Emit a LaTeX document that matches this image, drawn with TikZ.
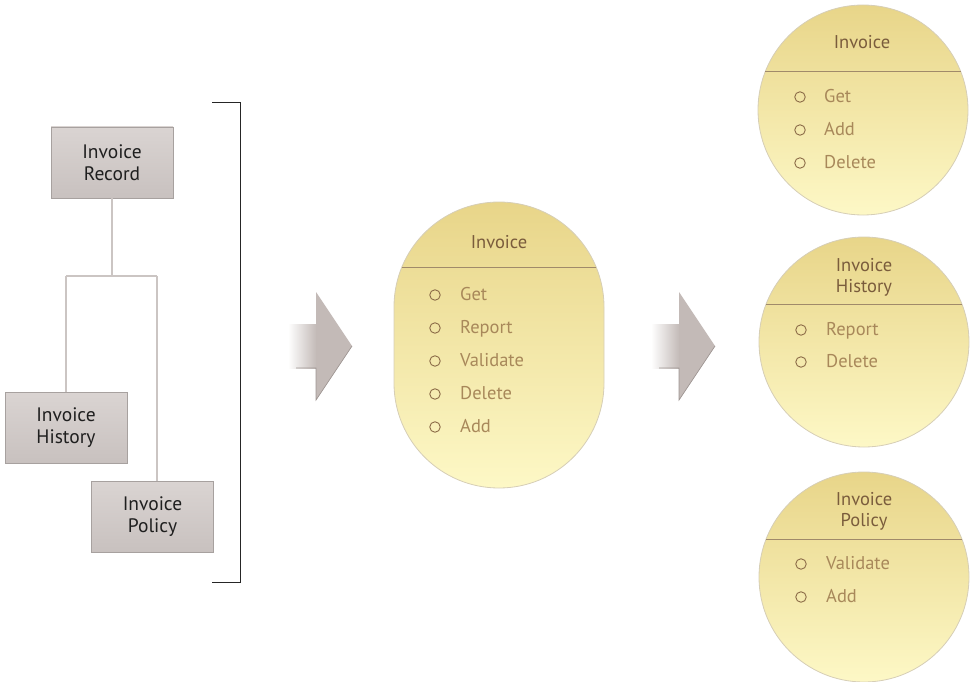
\documentclass[tikz,border=0pt]{standalone}
\usepackage{fontspec}
\setmainfont{PT Sans}

\definecolor{boxtop}{HTML}{DAD4D2}
\definecolor{boxbot}{HTML}{C8C1BF}
\definecolor{boxedge}{HTML}{A7A19F}
\definecolor{linkgray}{HTML}{CBC5C3}
\definecolor{goldtop}{HTML}{E8D589}
\definecolor{goldbot}{HTML}{FDF8C6}
\definecolor{goldedge}{HTML}{D6CEB6}
\definecolor{divider}{HTML}{A08A6A}
\definecolor{titlebrown}{HTML}{7A5C3C}
\definecolor{itembrown}{HTML}{A8885A}
\definecolor{bulletbrown}{HTML}{8C6C48}
\definecolor{arrowgray}{HTML}{C3BAB7}
\definecolor{arrowedge}{HTML}{9E9592}

\tikzset{
  entity/.style={draw=boxedge, line width=0.6pt, top color=boxtop, bottom color=boxbot,
    minimum width=122pt, minimum height=71pt, inner sep=0pt, align=center,
    font=\fontsize{19.5}{22}\selectfont, text=black!88},
  link/.style={draw=linkgray, line width=1.3pt},
  bracket/.style={draw=black!85, line width=1pt},
  classshape/.style={draw=goldedge, line width=0.8pt, top color=goldtop, bottom color=goldbot, inner sep=0pt},
  sep/.style={draw=divider, line width=1pt},
  ttl/.style={text=titlebrown, font=\fontsize{18.5}{21}\selectfont, align=center},
  itm/.style={text=itembrown, font=\fontsize{18.5}{20}\selectfont, anchor=mid west, inner sep=0pt},
  bul/.style={draw=bulletbrown, line width=0.9pt, circle, minimum size=10.5pt, inner sep=0pt},
}

% block arrow: body fades in from the left, head points right
\newcommand{\flowarrow}[1]{%
  \begin{scope}[shift={#1}]
    \shade[left color=white, right color=arrowgray, shading angle=90] (-28,-22) rectangle (0.5,22);
    \fill[arrowgray] (0,-54) -- (36,0) -- (0,54) -- cycle;
    \draw[arrowedge, line width=0.7pt] (36,0) -- (0,54) -- (0,22) -- (-20,22);
  \end{scope}}

\begin{document}
\begin{tikzpicture}[x=1pt, y=-1pt]
\useasboundingbox (0,0) rectangle (975,682);

% ---- record hierarchy ----
\node[entity] (rec)  at (112,162.5) {Invoice\\Record};
\node[entity] (hist) at (66,427.5)  {Invoice\\History};
\node[entity] (pol)  at (152.5,516.5) {Invoice\\Policy};

\coordinate (split) at (112,276);
\coordinate (jl) at (66,276);
\coordinate (jr) at (157,276);
\draw[link] (rec.south) -- (split);
\draw[link] (jl) -- (jr);
\draw[link] (jl) -- (hist.north);
\draw[link] (jr) -- (jr |- pol.north);

% bracket
\coordinate (bt) at (212,103);
\coordinate (bb) at (212,582);
\draw[bracket] (bt) -- ++(28,0) |- (bb);

% ---- arrows ----
\flowarrow{(316,346)}
\flowarrow{(679,346)}

% ---- combined class ----
\node[classshape, minimum width=210pt, minimum height=286pt, rounded corners=104.9pt] (mid) at (499,345) {};
\draw[sep] (402,267) -- (596,267);
\node[ttl] (midtitle) at (499,242) {Invoice};
\foreach \y/\t in {295/Get, 328/Report, 361/Validate, 394/Delete, 427/Add}{
  \node[bul] (mb\y) at (435,\y) {};
  \node[itm] (mi\y) at (460,\y+3) {\t};
}

% ---- split classes ----
\node[classshape, circle, minimum size=210pt] (c1) at (863,110) {};
\draw[sep] (765,72) -- (961,72);
\node[ttl] (t1) at (862,42) {Invoice};
\foreach \y/\t in {97/Get, 130/Add, 163/Delete}{
  \node[bul] (ab\y) at (800,\y) {};
  \node[itm] (ai\y) at (824,\y+3) {\t};
}

\node[classshape, circle, minimum size=210pt] (c2) at (864,342) {};
\draw[sep] (766,304) -- (962,304);
\node[ttl] (t2) at (864,277) {Invoice\\History};
\foreach \y/\t in {330/Report, 362/Delete}{
  \node[bul] (bb\y) at (801,\y) {};
  \node[itm] (bi\y) at (826,\y+3) {\t};
}

\node[classshape, circle, minimum size=210pt] (c3) at (864,577) {};
\draw[sep] (766,539) -- (962,539);
\node[ttl] (t3) at (864,511) {Invoice\\Policy};
\foreach \y/\t in {564/Validate, 597/Add}{
  \node[bul] (cb\y) at (801,\y) {};
  \node[itm] (ci\y) at (826,\y+3) {\t};
}
\end{tikzpicture}
\end{document}
